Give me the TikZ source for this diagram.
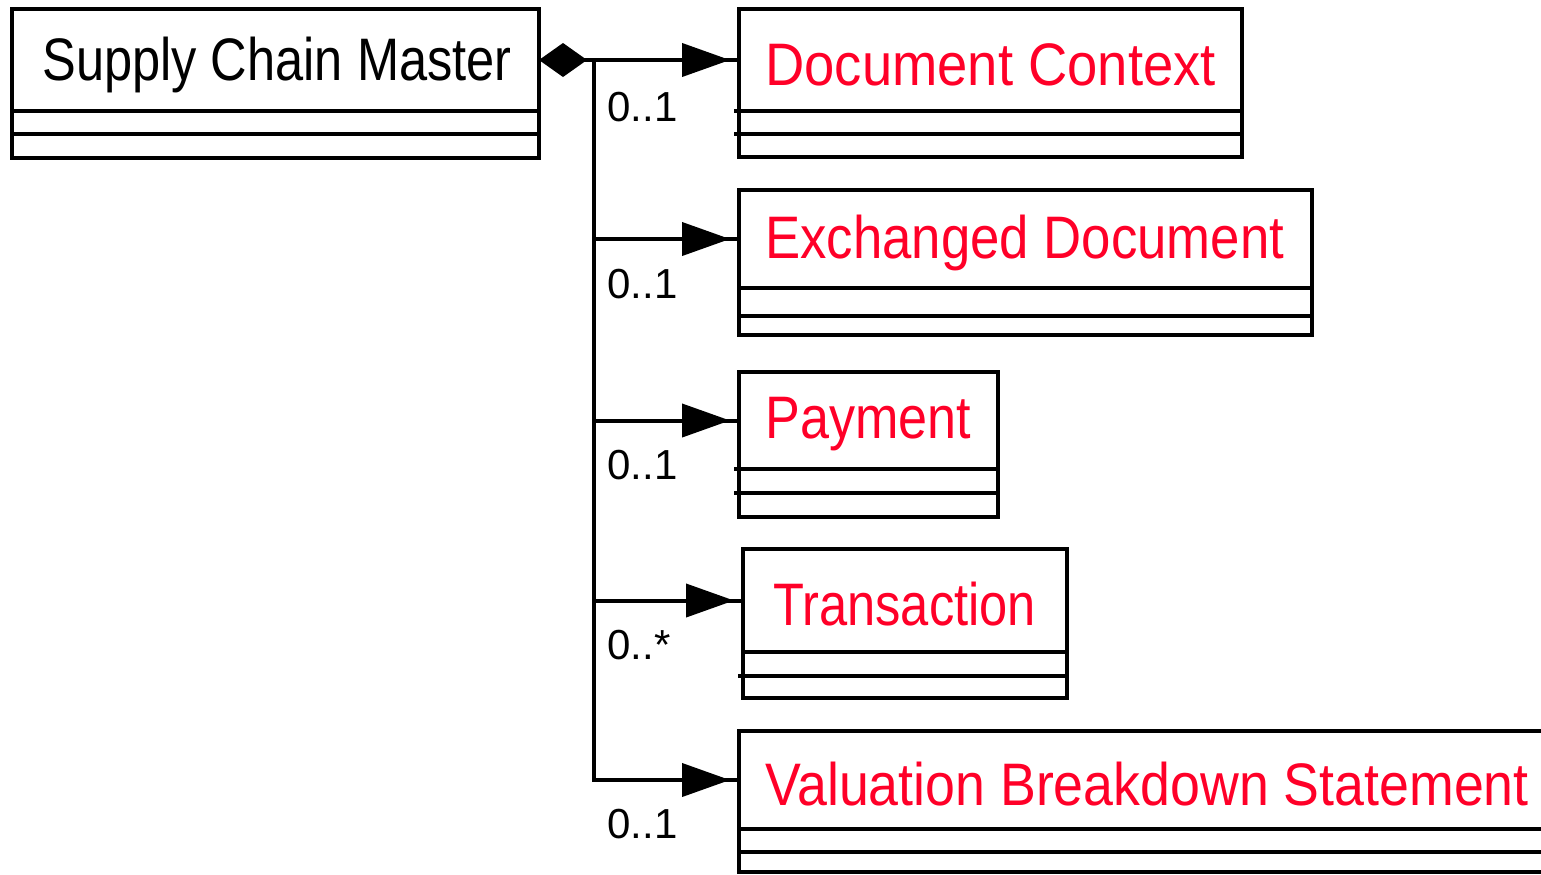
\documentclass[tikz,border=0pt]{standalone}
\usepackage{fontspec}
\newfontfamily\umlfont[FakeStretch=0.86]{Liberation Sans}
\newfontfamily\multfont{Liberation Sans}
\usetikzlibrary{arrows.meta,decorations.markings}
\definecolor{umlred}{RGB}{255,0,40}
\newcommand\umlattrs[3]{%
  \draw[boxline] (#1.south west) -- ++(0,#2+#3) -| (#1.south east);
  \draw[boxline] ([yshift=-#2*0.5pt]#1.south west) -- ([yshift=-#2*0.5pt]#1.south east);}
\begin{document}
\begin{tikzpicture}[x=0.5pt,y=-0.5pt,
  boxline/.style={line width=2pt},
  titlebox/.style={draw, line width=2pt, rectangle, anchor=north west, inner sep=0pt, outer sep=0pt},
  classname/.style={font=\umlfont\fontsize{30}{30}\selectfont, anchor=west, inner sep=0pt},
  mult/.style={font=\multfont\fontsize{21}{21}\selectfont, anchor=west, inner sep=0pt},
  conn/.style={line width=2pt, postaction={decorate},
    decoration={markings, mark=at position -4.5pt with {\arrow{Triangle[length=24pt,width=16.5pt]}}}},
  stub/.style={line width=2pt}]
\fill[white] (0,0) rectangle (1541,874);
\path[use as bounding box] (0,0) rectangle (1541,874);
\clip (0,0) rectangle (1541,874);
% Supply Chain Master
\node[titlebox, minimum width=263.5pt, minimum height=51pt] (mt) at (12,9) {};
\node[classname] (mtx) at ([xshift=15pt,yshift=-2.5pt]mt.west) {\scalebox{0.98}[1]{Supply Chain Master}};
\umlattrs{mt}{23}{24}
% Document Context
\node[titlebox, minimum width=251.5pt, minimum height=51pt] (dct) at (739,9) {};
\node[classname, text=umlred] (dctx) at ([xshift=13pt,yshift=-2.5pt]dct.west) {\scalebox{1.054}[1]{Document Context}};
\umlattrs{dct}{23}{23}
% Exchanged Document
\node[titlebox, minimum width=286.5pt, minimum height=49pt] (edt) at (739,190) {};
\node[classname, text=umlred] (edtx) at ([xshift=13pt,yshift=-2pt]edt.west) {\scalebox{1.022}[1]{Exchanged Document}};
\umlattrs{edt}{28}{19}
% Payment
\node[titlebox, minimum width=129.5pt, minimum height=48.5pt] (pyt) at (739,372) {};
\node[classname, text=umlred] (pytx) at ([xshift=13pt,yshift=-2pt]pyt.west) {\scalebox{1.01}[1]{Payment}};
\umlattrs{pyt}{24}{24}
% Transaction
\node[titlebox, minimum width=162pt, minimum height=51.5pt] (trt) at (743,549) {};
\node[classname, text=umlred] (trtx) at ([xshift=15pt,yshift=-2pt]trt.west) {\scalebox{0.981}[1]{Transaction}};
\umlattrs{trt}{24}{22}
% Valuation Breakdown Statement
\node[titlebox, minimum width=415pt, minimum height=49pt] (vbt) at (739,731) {};
\node[classname, text=umlred] (vbtx) at ([xshift=13pt,yshift=-2pt]vbt.west) {\scalebox{1.041}[1]{Valuation Breakdown Statement}};
\umlattrs{vbt}{23}{20}
% small stubs
\draw[stub] ([xshift=-2.5pt]dct.south west) -- (dct.south west);
\draw[stub] ([xshift=-2.5pt,yshift=-11.5pt]dct.south west) -- ([yshift=-11.5pt]dct.south west);
\draw[stub] ([xshift=-2.5pt]pyt.south west) -- (pyt.south west);
\draw[stub] ([xshift=-2.5pt,yshift=-12pt]pyt.south west) -- ([yshift=-12pt]pyt.south west);
\draw[stub] ([xshift=-2.5pt,yshift=-12pt]trt.south west) -- ([yshift=-12pt]trt.south west);
% connectors
\coordinate (j) at (594,60);
\draw[conn, {Diamond[length=24pt,width=17pt]}-] (mt.east) -- (dct.west);
\draw[conn] (j) |- (edt.west);
\draw[conn] (j) |- (pyt.west);
\draw[conn] (j) |- (trt.west);
\draw[conn] (j) |- (vbt.west);
% multiplicities
\node[mult] (m1) at (607,107) {0..1};
\node[mult] (m2) at (607,284) {0..1};
\node[mult] (m3) at (607,465) {0..1};
\node[mult] (m4) at (607,645) {0..*};
\node[mult] (m5) at (607,824) {0..1};
\end{tikzpicture}
\end{document}
